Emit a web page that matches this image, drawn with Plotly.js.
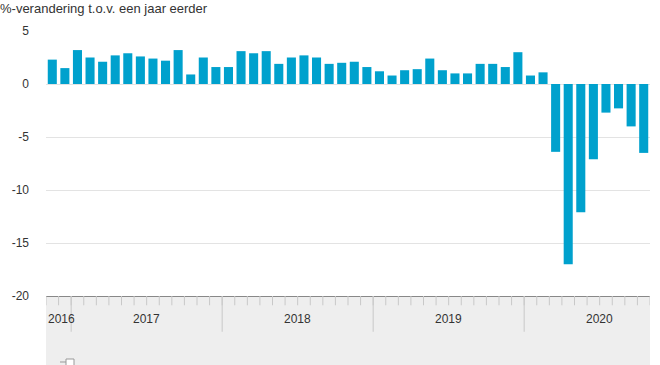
<!DOCTYPE html>
<html>
<head>
<meta charset="utf-8">
<script src="https://cdn.plot.ly/plotly-3.0.1.min.js"></script>
<style>html,body{margin:0;padding:0;background:#fff;}#chart{width:660px;height:365px;}</style>
</head>
<body>
<div id="chart"></div>
<script>
// Months (Nov 2016 – Oct 2020)
const months = [
  "2016-11","2016-12",
  "2017-01","2017-02","2017-03","2017-04","2017-05","2017-06","2017-07","2017-08","2017-09","2017-10","2017-11","2017-12",
  "2018-01","2018-02","2018-03","2018-04","2018-05","2018-06","2018-07","2018-08","2018-09","2018-10","2018-11","2018-12",
  "2019-01","2019-02","2019-03","2019-04","2019-05","2019-06","2019-07","2019-08","2019-09","2019-10","2019-11","2019-12",
  "2020-01","2020-02","2020-03","2020-04","2020-05","2020-06","2020-07","2020-08","2020-09","2020-10"
];
// %-change vs one year earlier
const values = [
  2.3, 1.5,
  3.2, 2.5, 2.1, 2.7, 2.9, 2.6, 2.4, 2.2, 3.2, 0.9, 2.5, 1.6,
  1.6, 3.1, 2.9, 3.1, 1.9, 2.5, 2.7, 2.5, 1.9, 2.0, 2.1, 1.6,
  1.2, 0.8, 1.3, 1.4, 2.4, 1.3, 1.0, 1.0, 1.9, 1.9, 1.6, 3.0,
  0.8, 1.1, -6.4, -17.0, -12.1, -7.1, -2.7, -2.3, -4.0, -6.5
];
const yearLabels = ["2016","2017","2018","2019","2020"];
const yTickVals = [5, 0, -5, -10, -15, -20];
const titleText = "%-verandering t.o.v. een jaar eerder";

// Layout helpers (derived from the categories)
const n = months.length;
const yearStartIdx = months.map((m,i)=> m.endsWith("-01") ? i : -1).filter(i=>i>=0);
const font = "Liberation Sans, Arial, sans-serif";

const shapes = [];
// grey band under the axis (tick band + navigator)
shapes.push({type:'rect', xref:'paper', yref:'paper', x0:0, x1:1, y0:-0.262, y1:0,
  fillcolor:'#eeeeee', line:{width:0}, layer:'below'});
// month ticks
for (let i = 0; i <= n; i++) {
  shapes.push({type:'line', xref:'x', yref:'paper', x0:i-0.5, x1:i-0.5, y0:0, y1:-0.035,
    line:{color:'#c8c8c8', width:1}});
}
// year boundary ticks
yearStartIdx.forEach(i => {
  shapes.push({type:'line', xref:'x', yref:'paper', x0:i-0.5, x1:i-0.5, y0:0, y1:-0.135,
    line:{color:'#c8c8c8', width:1}});
});
// navigator handle glyph (partly visible)
shapes.push({type:'rect', xref:'paper', yref:'paper', x0:(66-46)/604, x1:(74-46)/604,
  y0:-(359-296)/265, y1:-(366-296)/265, fillcolor:'#ffffff', line:{color:'#999', width:1}});
shapes.push({type:'line', xref:'paper', yref:'paper', x0:(60-46)/604, x1:(66-46)/604,
  y0:-(362-296)/265, y1:-(362-296)/265, line:{color:'#999', width:1}});

const annotations = [];
annotations.push({xref:'x', yref:'paper', x:-0.5, y:-0.085, xanchor:'left', yanchor:'middle',
  text:yearLabels[0], showarrow:false, font:{family:font, size:12, color:'#333'}});
yearStartIdx.forEach((i,k) => {
  annotations.push({xref:'x', yref:'paper', x:i-0.5+6, y:-0.085, xanchor:'center', yanchor:'middle',
    text:yearLabels[k+1], showarrow:false, font:{family:font, size:12, color:'#333'}});
});

const trace = {
  type:'bar',
  x: months.map((m,i)=>i),
  y: values,
  marker:{color:'#00a1cd', line:{width:0}},
  hoverinfo:'skip'
};

const layout = {
  width:660, height:365,
  margin:{l:46, r:10, t:31, b:69, pad:0},
  paper_bgcolor:'#ffffff', plot_bgcolor:'#ffffff',
  bargap:0.28,
  showlegend:false,
  title:{text:titleText, x:0, xref:'container', xanchor:'left', y:(365-8)/365, yref:'container', yanchor:'middle',
    font:{family:font, size:13, color:'#333'}},
  xaxis:{range:[-0.5, n-0.5], showticklabels:false, ticks:'', showgrid:false, zeroline:false,
    showline:true, linecolor:'#888', linewidth:1, fixedrange:true},
  yaxis:{range:[-20,5], tickvals:yTickVals, ticktext:yTickVals.map(String), ticks:'',
    showgrid:true, gridcolor:'#e3e3e3', gridwidth:1, zeroline:true, zerolinecolor:'#e3e3e3', zerolinewidth:1,
    showline:false, ticklabelstandoff:16, tickfont:{family:font, size:12, color:'#333'}, fixedrange:true},
  shapes: shapes,
  annotations: annotations
};

Plotly.newPlot('chart', [trace], layout, {staticPlot:true, displayModeBar:false});
</script>
</body>
</html>
